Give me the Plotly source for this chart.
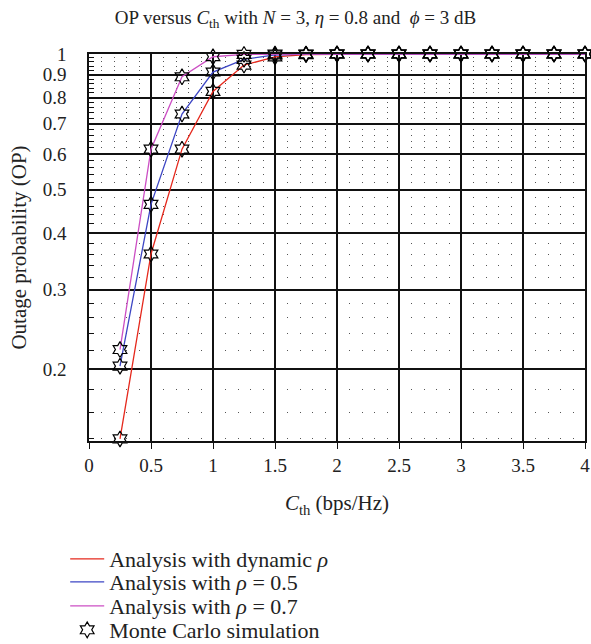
import plotly.graph_objects as go

x_vals = [0.25, 0.5, 0.75, 1.0, 1.25, 1.5, 1.75, 2.0, 2.25, 2.5, 2.75, 3.0, 3.25, 3.5, 3.75, 4.0]
op_dynamic = [0.140, 0.360, 0.615, 0.826, 0.945, 0.985, 0.997, 1.0, 1.0, 1.0, 1.0, 1.0, 1.0, 1.0, 1.0, 1.0]
op_rho05 = [0.203, 0.464, 0.736, 0.912, 0.973, 0.995, 0.999, 1.0, 1.0, 1.0, 1.0, 1.0, 1.0, 1.0, 1.0, 1.0]
op_rho07 = [0.221, 0.615, 0.890, 0.986, 0.998, 1.0, 1.0, 1.0, 1.0, 1.0, 1.0, 1.0, 1.0, 1.0, 1.0, 1.0]

x_ticks = [0, 0.5, 1, 1.5, 2, 2.5, 3, 3.5, 4]
y_ticks = [0.2, 0.3, 0.4, 0.5, 0.6, 0.7, 0.8, 0.9, 1.0]
y_tick_text = ["0.2", "0.3", "0.4", "0.5", "0.6", "0.7", "0.8", "0.9", "1"]
y_minor = [0.14, 0.16, 0.18] + [round(0.2 + 0.02 * k, 2) for k in range(1, 40) if (k % 5) != 0]

FONT = "Liberation Serif"

series = [
    ("Analysis with dynamic <i>ρ</i>", op_dynamic, "#e5281c"),
    ("Analysis with <i>ρ</i> = 0.5", op_rho05, "#3d46c4"),
    ("Analysis with <i>ρ</i> = 0.7", op_rho07, "#cc4fc4"),
]
legend_ids = ["legend", "legend2", "legend3", "legend4"]
legend_centers_px = [559, 582, 606, 630]  # vertical centres of legend rows

fig = go.Figure()
for k, (name, ys, col) in enumerate(series):
    fig.add_trace(go.Scatter(x=x_vals, y=ys, mode="lines", name=name, legend=legend_ids[k],
                             line=dict(color=col, width=1.3), cliponaxis=False))
for i, (name, ys, col) in enumerate(series):
    fig.add_trace(go.Scatter(x=x_vals, y=ys, mode="markers", name="Monte Carlo simulation",
                             showlegend=(i == 0), legend="legend4", cliponaxis=False,
                             marker=dict(symbol="hexagram-open", size=12, color="black",
                                         line=dict(color="black", width=1.2))))

M_L, M_R, M_T, M_B = 89, 6, 54, 203
H = 644
plot_h = H - M_T - M_B
legend_cfg = {}
for lid, cy in zip(legend_ids, legend_centers_px):
    legend_cfg[lid] = dict(x=-0.048, xanchor="left", y=(H - M_B - cy) / plot_h, yanchor="middle",
                           bgcolor="rgba(0,0,0,0)", font=dict(size=22, family=FONT, color="#222"),
                           itemwidth=34, borderwidth=0)

fig.update_layout(
    width=591, height=H,
    margin=dict(l=M_L, r=M_R, t=M_T, b=M_B, autoexpand=False),
    paper_bgcolor="white", plot_bgcolor="white",
    font=dict(family=FONT, size=19, color="#222"),
    title=dict(text="OP versus <i>C</i><sub>th</sub> with <i>N</i> = 3, <i>η</i> = 0.8 and  <i>ϕ</i> = 3 dB",
               x=0.5, xanchor="center", y=0.973, yanchor="middle", font=dict(size=19)),
    showlegend=True,
    **legend_cfg,
)
fig.update_xaxes(
    range=[0, 4], tickvals=x_ticks, ticktext=[("%g" % v) for v in x_ticks],
    showgrid=True, gridcolor="#111", gridwidth=1.5,
    showline=True, linecolor="#111", linewidth=1.5, mirror=True,
    ticks="outside", ticklen=6, tickcolor="#111",
    zeroline=False, automargin=False, ticklabeloverflow="allow",
    title=dict(text="<i>C</i><sub>th</sub> (bps/Hz)", standoff=21, font=dict(size=21)),
)
fig.update_yaxes(
    type="log", range=[-0.8585, 0],
    tickvals=y_ticks, ticktext=y_tick_text,
    showgrid=True, gridcolor="#111", gridwidth=1.5,
    showline=True, linecolor="#111", linewidth=1.5, mirror=True,
    ticks="outside", ticklen=17, tickcolor="rgba(0,0,0,0)",
    zeroline=False, automargin=False, ticklabeloverflow="allow",
    minor=dict(tickvals=y_minor, showgrid=True, gridcolor="#555", gridwidth=1,
               griddash="1px,11.4px", ticks="inside", ticklen=5, tickcolor="#111"),
    title=dict(text="Outage probability (OP)", standoff=10, font=dict(size=21)),
)

fig.write_html("out.html", config={"displayModeBar": False},
               post_script="document.body.style.margin='0';document.body.style.overflow='hidden';")
